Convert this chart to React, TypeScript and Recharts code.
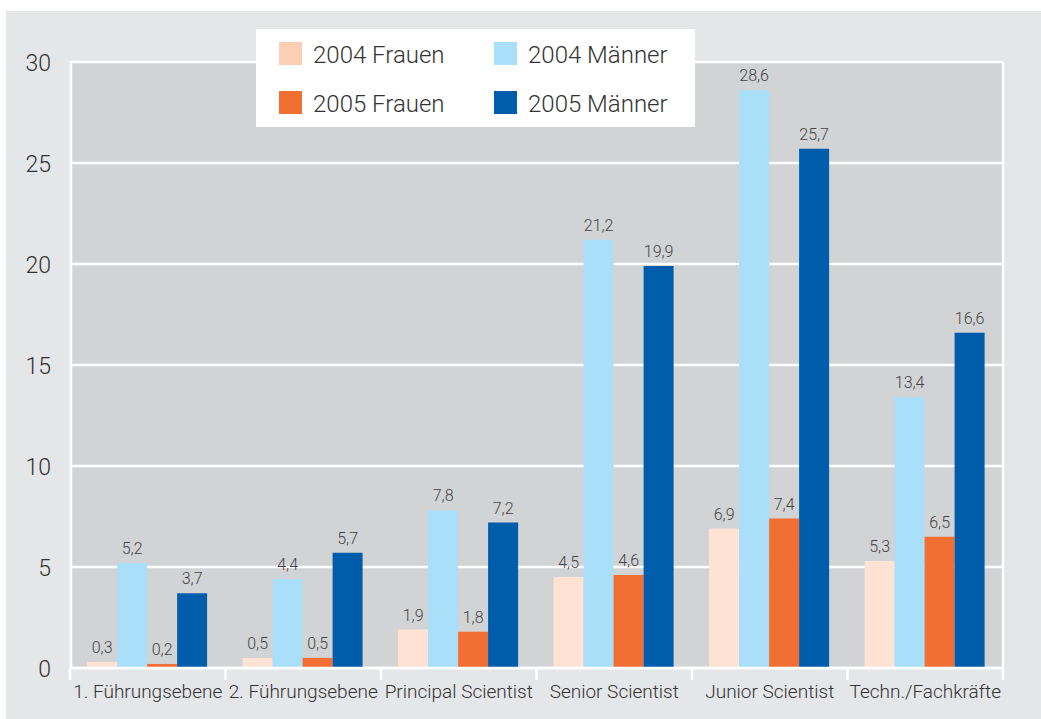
import React from 'react';
import { BarChart, Bar, XAxis, YAxis, CartesianGrid, LabelList, Legend } from 'recharts';

// Staff share by career level, women vs. men, 2004 and 2005 (percent)
const categories = [
  '1. Führungsebene',
  '2. Führungsebene',
  'Principal Scientist',
  'Senior Scientist',
  'Junior Scientist',
  'Techn./Fachkräfte',
];
const frauen2004 = [0.3, 0.5, 1.9, 4.5, 6.9, 5.3];
const maenner2004 = [5.2, 4.4, 7.8, 21.2, 28.6, 13.4];
const frauen2005 = [0.2, 0.5, 1.8, 4.6, 7.4, 6.5];
const maenner2005 = [3.7, 5.7, 7.2, 19.9, 25.7, 16.6];
const yTicks = [0, 5, 10, 15, 20, 25, 30];

const series = [
  { key: 'f2004', name: '2004 Frauen', fill: '#fee3d5', swatch: '#fdcfb5' },
  { key: 'm2004', name: '2004 Männer', fill: '#aadff9', swatch: '#aadff9' },
  { key: 'f2005', name: '2005 Frauen', fill: '#f26f33', swatch: '#f26f33' },
  { key: 'm2005', name: '2005 Männer', fill: '#005dab', swatch: '#005dab' },
];

const data = categories.map((name, i) => ({
  name,
  f2004: frauen2004[i],
  m2004: maenner2004[i],
  f2005: frauen2005[i],
  m2005: maenner2005[i],
}));

const W = 1041;
const H = 719;
const FONT = 'Roboto, "Liberation Sans", Arial, sans-serif';
const WEIGHT = 300;
const TEXT = '#333';
const PLOT_BG = '#d2d3d5';
const PAGE_BG = '#e5e6e8';

const margin = { top: 62, right: 38, bottom: 11, left: 0 };
const Y_AXIS_W = 70;
const X_AXIS_H = 40;
const plotWidth = W - margin.left - margin.right - Y_AXIS_W;

const fmt = (v: any) => String(v).replace('.', ',');

// Category label centred in its band, white separator ticks on band edges
const CategoryTick = (props: any) => {
  const { x, y, payload, index } = props;
  const half = payload && typeof payload.offset === 'number' && payload.offset > 0
    ? payload.offset
    : plotWidth / categories.length / 2;
  const last = index === categories.length - 1;
  return (
    <g>
      <line x1={x - half} x2={x - half} y1={y} y2={y + 12} stroke="#fff" strokeWidth={2.5} />
      {last && <line x1={x + half} x2={x + half} y1={y} y2={y + 12} stroke="#fff" strokeWidth={2.5} />}
      <text x={x} y={y + 30} textAnchor="middle" fontFamily={FONT} fontWeight={WEIGHT} fontSize={19} fill={TEXT}>
        {payload.value}
      </text>
    </g>
  );
};

const ValueTick = (props: any) => {
  const { x, y, payload } = props;
  return (
    <text x={x} y={y} dy={9} textAnchor="end" fontFamily={FONT} fontWeight={WEIGHT} fontSize={23} fill={TEXT}>
      {payload.value}
    </text>
  );
};

const LegendBox = () => (
  <div
    style={{
      background: '#fff',
      width: 439,
      height: 98,
      boxSizing: 'border-box',
      display: 'grid',
      gridTemplateColumns: '215px 224px',
      gridTemplateRows: '49px 49px',
      paddingTop: 13,
      paddingLeft: 23,
      fontFamily: FONT,
      fontWeight: WEIGHT,
      fontSize: 24,
      color: TEXT,
    }}
  >
    {series.map((s) => (
      <div key={s.key} style={{ display: 'flex', alignItems: 'flex-start', height: 23 }}>
        <span style={{ width: 23, height: 23, background: s.swatch, display: 'inline-block', flex: 'none' }} />
        <span style={{ marginLeft: 11, lineHeight: '23px', position: 'relative', top: 2, whiteSpace: 'nowrap' }}>{s.name}</span>
      </div>
    ))}
  </div>
);

export default function App() {
  return (
    <div style={{ position: 'absolute', left: 0, top: 0, width: W, height: H, background: '#fff', overflow: 'hidden' }}>
      <div style={{ position: 'absolute', left: 6, top: 11, right: 0, bottom: 0, background: PAGE_BG }} />
      <div style={{ position: 'absolute', left: 0, top: 0 }}>
        <BarChart
          width={W}
          height={H}
          data={data}
          margin={margin}
          barCategoryGap="11%"
          barGap={0}
        >
          <CartesianGrid
            fill={PLOT_BG}
            stroke="#fff"
            strokeWidth={2.5}
            verticalCoordinatesGenerator={({ offset }: any) => [offset.left + 1, offset.left + offset.width]}
          />
          <XAxis
            dataKey="name"
            height={X_AXIS_H}
            interval={0}
            axisLine={{ stroke: '#fff', strokeWidth: 2.5 }}
            tickLine={false}
            tickSize={0}
            tickMargin={0}
            tick={<CategoryTick />}
          />
          <YAxis
            width={Y_AXIS_W}
            domain={[0, 30]}
            ticks={yTicks}
            interval={0}
            axisLine={false}
            tickLine={false}
            tickSize={0}
            tickMargin={19}
            tick={<ValueTick />}
          />
          <Legend
            layout="horizontal"
            verticalAlign="middle"
            align="center"
            wrapperStyle={{ position: 'absolute', left: 256, top: 29, width: 439, height: 98 }}
            content={<LegendBox />}
          />
          {series.map((s) => (
            <Bar key={s.key} dataKey={s.key} name={s.name} fill={s.fill} isAnimationActive={false}>
              <LabelList
                dataKey={s.key}
                position="top"
                offset={9}
                formatter={fmt}
                style={{ fontFamily: FONT, fontWeight: WEIGHT, fontSize: 16, fill: '#444' }}
              />
            </Bar>
          ))}
        </BarChart>
      </div>
    </div>
  );
}
